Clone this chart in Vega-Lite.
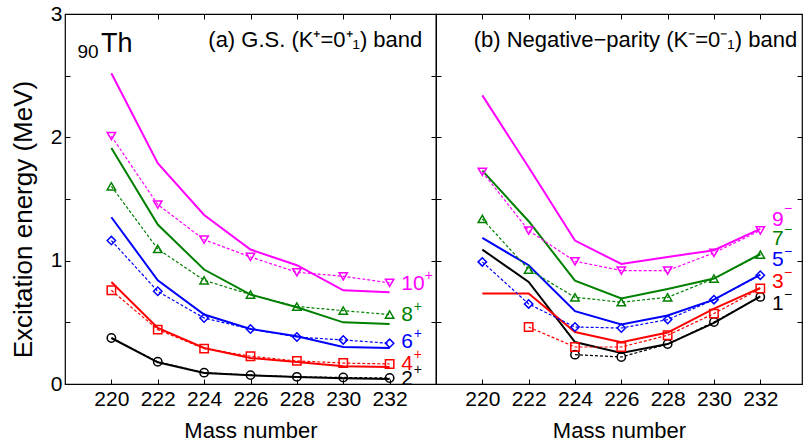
{
  "$schema": "https://vega.github.io/schema/vega-lite/v6.json",
  "padding": {"left": 9, "top": 2, "right": 0, "bottom": 0},
  "spacing": 0,
  "bounds": "flush",
  "config": {
    "view": {"stroke": "black", "strokeWidth": 1.2},
    "font": "Liberation Sans",
    "axis": {"tickColor": "black", "labelColor": "black", "titleColor": "black", "labelFont": "Liberation Sans", "titleFont": "Liberation Sans", "grid": false, "domain": false, "tickWidth": 1},
    "text": {"font": "Liberation Sans"}
  },
  "datasets": {
    "curves": [
      {"panel":"a","state":"2+","kind":"th","mass":220,"energy":0.373},
      {"panel":"a","state":"2+","kind":"th","mass":222,"energy":0.176},
      {"panel":"a","state":"2+","kind":"th","mass":224,"energy":0.089},
      {"panel":"a","state":"2+","kind":"th","mass":226,"energy":0.070},
      {"panel":"a","state":"2+","kind":"th","mass":228,"energy":0.057},
      {"panel":"a","state":"2+","kind":"th","mass":230,"energy":0.046},
      {"panel":"a","state":"2+","kind":"th","mass":232,"energy":0.041},
      {"panel":"a","state":"4+","kind":"th","mass":220,"energy":0.827},
      {"panel":"a","state":"4+","kind":"th","mass":222,"energy":0.454},
      {"panel":"a","state":"4+","kind":"th","mass":224,"energy":0.292},
      {"panel":"a","state":"4+","kind":"th","mass":226,"energy":0.211},
      {"panel":"a","state":"4+","kind":"th","mass":228,"energy":0.178},
      {"panel":"a","state":"4+","kind":"th","mass":230,"energy":0.144},
      {"panel":"a","state":"4+","kind":"th","mass":232,"energy":0.138},
      {"panel":"a","state":"6+","kind":"th","mass":220,"energy":1.352},
      {"panel":"a","state":"6+","kind":"th","mass":222,"energy":0.841},
      {"panel":"a","state":"6+","kind":"th","mass":224,"energy":0.563},
      {"panel":"a","state":"6+","kind":"th","mass":226,"energy":0.446},
      {"panel":"a","state":"6+","kind":"th","mass":228,"energy":0.387},
      {"panel":"a","state":"6+","kind":"th","mass":230,"energy":0.300},
      {"panel":"a","state":"6+","kind":"th","mass":232,"energy":0.292},
      {"panel":"a","state":"8+","kind":"th","mass":220,"energy":1.914},
      {"panel":"a","state":"8+","kind":"th","mass":222,"energy":1.293},
      {"panel":"a","state":"8+","kind":"th","mass":224,"energy":0.928},
      {"panel":"a","state":"8+","kind":"th","mass":226,"energy":0.725},
      {"panel":"a","state":"8+","kind":"th","mass":228,"energy":0.622},
      {"panel":"a","state":"8+","kind":"th","mass":230,"energy":0.500},
      {"panel":"a","state":"8+","kind":"th","mass":232,"energy":0.487},
      {"panel":"a","state":"10+","kind":"th","mass":220,"energy":2.520},
      {"panel":"a","state":"10+","kind":"th","mass":222,"energy":1.790},
      {"panel":"a","state":"10+","kind":"th","mass":224,"energy":1.370},
      {"panel":"a","state":"10+","kind":"th","mass":226,"energy":1.090},
      {"panel":"a","state":"10+","kind":"th","mass":228,"energy":0.963},
      {"panel":"a","state":"10+","kind":"th","mass":230,"energy":0.760},
      {"panel":"a","state":"10+","kind":"th","mass":232,"energy":0.744},
      {"panel":"a","state":"2+","kind":"ex","mass":220,"energy":0.373},
      {"panel":"a","state":"2+","kind":"ex","mass":222,"energy":0.180},
      {"panel":"a","state":"2+","kind":"ex","mass":224,"energy":0.092},
      {"panel":"a","state":"2+","kind":"ex","mass":226,"energy":0.072},
      {"panel":"a","state":"2+","kind":"ex","mass":228,"energy":0.058},
      {"panel":"a","state":"2+","kind":"ex","mass":230,"energy":0.053},
      {"panel":"a","state":"2+","kind":"ex","mass":232,"energy":0.049},
      {"panel":"a","state":"4+","kind":"ex","mass":220,"energy":0.760},
      {"panel":"a","state":"4+","kind":"ex","mass":222,"energy":0.441},
      {"panel":"a","state":"4+","kind":"ex","mass":224,"energy":0.287},
      {"panel":"a","state":"4+","kind":"ex","mass":226,"energy":0.225},
      {"panel":"a","state":"4+","kind":"ex","mass":228,"energy":0.187},
      {"panel":"a","state":"4+","kind":"ex","mass":230,"energy":0.170},
      {"panel":"a","state":"4+","kind":"ex","mass":232,"energy":0.162},
      {"panel":"a","state":"6+","kind":"ex","mass":220,"energy":1.163},
      {"panel":"a","state":"6+","kind":"ex","mass":222,"energy":0.752},
      {"panel":"a","state":"6+","kind":"ex","mass":224,"energy":0.535},
      {"panel":"a","state":"6+","kind":"ex","mass":226,"energy":0.446},
      {"panel":"a","state":"6+","kind":"ex","mass":228,"energy":0.381},
      {"panel":"a","state":"6+","kind":"ex","mass":230,"energy":0.357},
      {"panel":"a","state":"6+","kind":"ex","mass":232,"energy":0.330},
      {"panel":"a","state":"8+","kind":"ex","mass":220,"energy":1.603},
      {"panel":"a","state":"8+","kind":"ex","mass":222,"energy":1.095},
      {"panel":"a","state":"8+","kind":"ex","mass":224,"energy":0.841},
      {"panel":"a","state":"8+","kind":"ex","mass":226,"energy":0.725},
      {"panel":"a","state":"8+","kind":"ex","mass":228,"energy":0.628},
      {"panel":"a","state":"8+","kind":"ex","mass":230,"energy":0.595},
      {"panel":"a","state":"8+","kind":"ex","mass":232,"energy":0.563},
      {"panel":"a","state":"10+","kind":"ex","mass":220,"energy":2.010},
      {"panel":"a","state":"10+","kind":"ex","mass":222,"energy":1.455},
      {"panel":"a","state":"10+","kind":"ex","mass":224,"energy":1.170},
      {"panel":"a","state":"10+","kind":"ex","mass":226,"energy":1.030},
      {"panel":"a","state":"10+","kind":"ex","mass":228,"energy":0.906},
      {"panel":"a","state":"10+","kind":"ex","mass":230,"energy":0.873},
      {"panel":"a","state":"10+","kind":"ex","mass":232,"energy":0.820},
      {"panel":"b","state":"1-","kind":"th","mass":220,"energy":1.090},
      {"panel":"b","state":"1-","kind":"th","mass":222,"energy":0.827},
      {"panel":"b","state":"1-","kind":"th","mass":224,"energy":0.340},
      {"panel":"b","state":"1-","kind":"th","mass":226,"energy":0.251},
      {"panel":"b","state":"1-","kind":"th","mass":228,"energy":0.324},
      {"panel":"b","state":"1-","kind":"th","mass":230,"energy":0.495},
      {"panel":"b","state":"1-","kind":"th","mass":232,"energy":0.711},
      {"panel":"b","state":"3-","kind":"th","mass":220,"energy":0.733},
      {"panel":"b","state":"3-","kind":"th","mass":222,"energy":0.733},
      {"panel":"b","state":"3-","kind":"th","mass":224,"energy":0.422},
      {"panel":"b","state":"3-","kind":"th","mass":226,"energy":0.338},
      {"panel":"b","state":"3-","kind":"th","mass":228,"energy":0.417},
      {"panel":"b","state":"3-","kind":"th","mass":230,"energy":0.611},
      {"panel":"b","state":"3-","kind":"th","mass":232,"energy":0.779},
      {"panel":"b","state":"5-","kind":"th","mass":220,"energy":1.184},
      {"panel":"b","state":"5-","kind":"th","mass":222,"energy":0.963},
      {"panel":"b","state":"5-","kind":"th","mass":224,"energy":0.590},
      {"panel":"b","state":"5-","kind":"th","mass":226,"energy":0.482},
      {"panel":"b","state":"5-","kind":"th","mass":228,"energy":0.555},
      {"panel":"b","state":"5-","kind":"th","mass":230,"energy":0.684},
      {"panel":"b","state":"5-","kind":"th","mass":232,"energy":0.887},
      {"panel":"b","state":"7-","kind":"th","mass":220,"energy":1.730},
      {"panel":"b","state":"7-","kind":"th","mass":222,"energy":1.320},
      {"panel":"b","state":"7-","kind":"th","mass":224,"energy":0.838},
      {"panel":"b","state":"7-","kind":"th","mass":226,"energy":0.693},
      {"panel":"b","state":"7-","kind":"th","mass":228,"energy":0.771},
      {"panel":"b","state":"7-","kind":"th","mass":230,"energy":0.855},
      {"panel":"b","state":"7-","kind":"th","mass":232,"energy":1.054},
      {"panel":"b","state":"9-","kind":"th","mass":220,"energy":2.340},
      {"panel":"b","state":"9-","kind":"th","mass":222,"energy":1.757},
      {"panel":"b","state":"9-","kind":"th","mass":224,"energy":1.163},
      {"panel":"b","state":"9-","kind":"th","mass":226,"energy":0.973},
      {"panel":"b","state":"9-","kind":"th","mass":228,"energy":1.030},
      {"panel":"b","state":"9-","kind":"th","mass":230,"energy":1.085},
      {"panel":"b","state":"9-","kind":"th","mass":232,"energy":1.258},
      {"panel":"b","state":"1-","kind":"ex","mass":224,"energy":0.238},
      {"panel":"b","state":"1-","kind":"ex","mass":226,"energy":0.219},
      {"panel":"b","state":"1-","kind":"ex","mass":228,"energy":0.324},
      {"panel":"b","state":"1-","kind":"ex","mass":230,"energy":0.503},
      {"panel":"b","state":"1-","kind":"ex","mass":232,"energy":0.706},
      {"panel":"b","state":"3-","kind":"ex","mass":222,"energy":0.462},
      {"panel":"b","state":"3-","kind":"ex","mass":224,"energy":0.300},
      {"panel":"b","state":"3-","kind":"ex","mass":226,"energy":0.300},
      {"panel":"b","state":"3-","kind":"ex","mass":228,"energy":0.395},
      {"panel":"b","state":"3-","kind":"ex","mass":230,"energy":0.571},
      {"panel":"b","state":"3-","kind":"ex","mass":232,"energy":0.774},
      {"panel":"b","state":"5-","kind":"ex","mass":220,"energy":0.990},
      {"panel":"b","state":"5-","kind":"ex","mass":222,"energy":0.649},
      {"panel":"b","state":"5-","kind":"ex","mass":224,"energy":0.462},
      {"panel":"b","state":"5-","kind":"ex","mass":226,"energy":0.454},
      {"panel":"b","state":"5-","kind":"ex","mass":228,"energy":0.522},
      {"panel":"b","state":"5-","kind":"ex","mass":230,"energy":0.684},
      {"panel":"b","state":"5-","kind":"ex","mass":232,"energy":0.882},
      {"panel":"b","state":"7-","kind":"ex","mass":220,"energy":1.338},
      {"panel":"b","state":"7-","kind":"ex","mass":222,"energy":0.928},
      {"panel":"b","state":"7-","kind":"ex","mass":224,"energy":0.703},
      {"panel":"b","state":"7-","kind":"ex","mass":226,"energy":0.663},
      {"panel":"b","state":"7-","kind":"ex","mass":228,"energy":0.703},
      {"panel":"b","state":"7-","kind":"ex","mass":230,"energy":0.855},
      {"panel":"b","state":"7-","kind":"ex","mass":232,"energy":1.049},
      {"panel":"b","state":"9-","kind":"ex","mass":220,"energy":1.720},
      {"panel":"b","state":"9-","kind":"ex","mass":222,"energy":1.244},
      {"panel":"b","state":"9-","kind":"ex","mass":224,"energy":0.995},
      {"panel":"b","state":"9-","kind":"ex","mass":226,"energy":0.920},
      {"panel":"b","state":"9-","kind":"ex","mass":228,"energy":0.920},
      {"panel":"b","state":"9-","kind":"ex","mass":230,"energy":1.063},
      {"panel":"b","state":"9-","kind":"ex","mass":232,"energy":1.245}
    ],
    "labels": [
      {"panel":"a","state":"10+","role":"main","text":"10","mass":232.5,"energy":0.766},
      {"panel":"a","state":"8+","role":"main","text":"8","mass":232.5,"energy":0.514},
      {"panel":"a","state":"6+","role":"main","text":"6","mass":232.5,"energy":0.292},
      {"panel":"a","state":"4+","role":"main","text":"4","mass":232.5,"energy":0.117},
      {"panel":"a","state":"2+","role":"main","text":"2","mass":232.5,"energy":-0.005},
      {"panel":"a","state":"10+","role":"sup","text":"+","mass":233.52,"energy":0.844},
      {"panel":"a","state":"8+","role":"sup","text":"+","mass":233.04,"energy":0.595},
      {"panel":"a","state":"6+","role":"sup","text":"+","mass":233.04,"energy":0.374},
      {"panel":"a","state":"4+","role":"sup","text":"+","mass":233.04,"energy":0.204},
      {"panel":"a","state":"2+","role":"sup","text":"+","mass":233.04,"energy":0.084},
      {"panel":"b","state":"9-","role":"main","text":"9","mass":232.51,"energy":1.279},
      {"panel":"b","state":"7-","role":"main","text":"7","mass":232.51,"energy":1.125},
      {"panel":"b","state":"5-","role":"main","text":"5","mass":232.51,"energy":0.955},
      {"panel":"b","state":"3-","role":"main","text":"3","mass":232.51,"energy":0.779},
      {"panel":"b","state":"1-","role":"main","text":"1","mass":232.51,"energy":0.603},
      {"panel":"b","state":"9-","role":"sup","text":"−","mass":233.02,"energy":1.386},
      {"panel":"b","state":"7-","role":"sup","text":"−","mass":233.02,"energy":1.213},
      {"panel":"b","state":"5-","role":"sup","text":"−","mass":233.02,"energy":1.04},
      {"panel":"b","state":"3-","role":"sup","text":"−","mass":233.02,"energy":0.864},
      {"panel":"b","state":"1-","role":"sup","text":"−","mass":233.02,"energy":0.693}
    ],
    "notes": [
      {"panel":"a","role":"title","text":"(a) G.S. (K⁺=0⁺₁) band","mass":233.41,"energy":2.731},
      {"panel":"b","role":"title","text":"(b) Negative−parity (K⁻=0⁻₁) band","mass":233.59,"energy":2.731},
      {"panel":"a","role":"elem","text":"Th","mass":219.55,"energy":2.693},
      {"panel":"a","role":"z","text":"90","mass":219.45,"energy":2.642}
    ]
  },
  "hconcat": [
    {
      "width": 371,
      "height": 370,
      "layer": [
        {
          "data": {"name": "curves"},
          "transform": [{"filter": "datum.panel === 'a' && datum.kind === 'th'"}],
          "mark": {"type": "line", "strokeWidth": 2},
          "encoding": {
            "x": {"field": "mass", "type": "quantitative", "scale": {"domain": [218, 234], "nice": false, "zero": false},
              "axis": {"orient": "bottom", "values": [220,222,224,226,228,230,232], "tickSize": -5, "labelPadding": 9, "labelFontSize": 21, "labelFlush": false, "labelOverlap": false, "title": "Mass number", "titleFontSize": 22, "titleFontWeight": "normal", "titleBaseline": "alphabetic", "titleY": 53.3}},
            "y": {"field": "energy", "type": "quantitative", "scale": {"domain": [0, 3], "nice": false, "zero": false},
              "axis": {"orient": "left", "values": [0,0.5,1,1.5,2,2.5,3], "tickSize": -5, "labelPadding": 8, "labelFontSize": 21, "labelFlush": false, "labelOverlap": false, "labelExpr": "datum.value % 1 === 0 ? '' + datum.value : ''", "title": "Excitation energy (MeV)", "titleFontSize": 26, "titleFontWeight": "normal", "titleAngle": 270, "titleX": -34, "titleY": 205, "titleBaseline": "alphabetic", "titleAlign": "center"}},
            "color": {"field": "state", "type": "nominal", "legend": null,
              "scale": {"domain": ["2+","4+","6+","8+","10+","1-","3-","5-","7-","9-"], "range": ["#000000","#ff0000","#0000ff","#008000","#ff00ff","#000000","#ff0000","#0000ff","#008000","#ff00ff"]}}
          }
        },
        {
          "data": {"name": "curves"},
          "transform": [{"filter": "datum.panel === 'a' && datum.kind === 'ex'"}],
          "mark": {"type": "line", "strokeWidth": 1.2, "strokeDash": [3, 2]},
          "encoding": {
            "x": {"field": "mass", "type": "quantitative", "scale": {"domain": [218, 234], "nice": false, "zero": false},
              "axis": {"orient": "top", "values": [220,222,224,226,228,230,232], "tickSize": -5, "labels": false, "title": null}},
            "y": {"field": "energy", "type": "quantitative", "scale": {"domain": [0, 3], "nice": false, "zero": false},
              "axis": {"orient": "right", "values": [0,0.5,1,1.5,2,2.5,3], "tickSize": -5, "labels": false, "title": null}},
            "color": {"field": "state", "type": "nominal", "legend": null}
          }
        },
        {
          "data": {"name": "curves"},
          "transform": [{"filter": "datum.panel === 'a' && datum.kind === 'ex'"}],
          "mark": {"type": "point", "filled": false, "strokeWidth": 1.5, "size": 70, "opacity": 1},
          "encoding": {
            "x": {"field": "mass", "type": "quantitative", "scale": {"domain": [218, 234], "nice": false, "zero": false}, "axis": null},
            "y": {"field": "energy", "type": "quantitative", "scale": {"domain": [0, 3], "nice": false, "zero": false}, "axis": null},
            "color": {"field": "state", "type": "nominal", "legend": null},
            "shape": {"field": "state", "type": "nominal", "legend": null,
              "scale": {"domain": ["2+","4+","6+","8+","10+","1-","3-","5-","7-","9-"], "range": ["circle","square","diamond","triangle-up","triangle-down","circle","square","diamond","triangle-up","triangle-down"]}}
          }
        },
        {
          "data": {"name": "labels"},
          "transform": [{"filter": "datum.panel === 'a' && datum.role === 'main'"}],
          "mark": {"type": "text", "fontSize": 21, "align": "left", "baseline": "alphabetic"},
          "encoding": {
            "x": {"field": "mass", "type": "quantitative", "scale": {"domain": [218, 234], "nice": false, "zero": false}, "axis": null},
            "y": {"field": "energy", "type": "quantitative", "scale": {"domain": [0, 3], "nice": false, "zero": false}, "axis": null},
            "text": {"field": "text"},
            "color": {"field": "state", "type": "nominal", "legend": null}
          }
        },
        {
          "data": {"name": "labels"},
          "transform": [{"filter": "datum.panel === 'a' && datum.role === 'sup'"}],
          "mark": {"type": "text", "fontSize": 14, "align": "left", "baseline": "alphabetic"},
          "encoding": {
            "x": {"field": "mass", "type": "quantitative", "scale": {"domain": [218, 234], "nice": false, "zero": false}, "axis": null},
            "y": {"field": "energy", "type": "quantitative", "scale": {"domain": [0, 3], "nice": false, "zero": false}, "axis": null},
            "text": {"field": "text"},
            "color": {"field": "state", "type": "nominal", "legend": null}
          }
        },
        {
          "data": {"name": "notes"},
          "transform": [{"filter": "datum.panel === 'a' && datum.role === 'title'"}],
          "mark": {"type": "text", "fontSize": 22, "align": "right", "baseline": "alphabetic", "color": "black"},
          "encoding": {
            "x": {"field": "mass", "type": "quantitative", "scale": {"domain": [218, 234], "nice": false, "zero": false}, "axis": null},
            "y": {"field": "energy", "type": "quantitative", "scale": {"domain": [0, 3], "nice": false, "zero": false}, "axis": null},
            "text": {"field": "text"}
          }
        },
        {
          "data": {"name": "notes"},
          "transform": [{"filter": "datum.panel === 'a' && datum.role === 'elem'"}],
          "mark": {"type": "text", "fontSize": 27, "align": "left", "baseline": "alphabetic", "color": "black"},
          "encoding": {
            "x": {"field": "mass", "type": "quantitative", "scale": {"domain": [218, 234], "nice": false, "zero": false}, "axis": null},
            "y": {"field": "energy", "type": "quantitative", "scale": {"domain": [0, 3], "nice": false, "zero": false}, "axis": null},
            "text": {"field": "text"}
          }
        },
        {
          "data": {"name": "notes"},
          "transform": [{"filter": "datum.panel === 'a' && datum.role === 'z'"}],
          "mark": {"type": "text", "fontSize": 19, "align": "right", "baseline": "alphabetic", "color": "black"},
          "encoding": {
            "x": {"field": "mass", "type": "quantitative", "scale": {"domain": [218, 234], "nice": false, "zero": false}, "axis": null},
            "y": {"field": "energy", "type": "quantitative", "scale": {"domain": [0, 3], "nice": false, "zero": false}, "axis": null},
            "text": {"field": "text"}
          }
        }
      ]
    },
    {
      "width": 366,
      "height": 370,
      "layer": [
        {
          "data": {"name": "curves"},
          "transform": [{"filter": "datum.panel === 'b' && datum.kind === 'th'"}],
          "mark": {"type": "line", "strokeWidth": 2},
          "encoding": {
            "x": {"field": "mass", "type": "quantitative", "scale": {"domain": [218, 233.8], "nice": false, "zero": false},
              "axis": {"orient": "bottom", "values": [220,222,224,226,228,230,232], "tickSize": -5, "labelPadding": 9, "labelFontSize": 21, "labelFlush": false, "labelOverlap": false, "title": "Mass number", "titleFontSize": 22, "titleFontWeight": "normal", "titleBaseline": "alphabetic", "titleY": 53.3}},
            "y": {"field": "energy", "type": "quantitative", "scale": {"domain": [0, 3], "nice": false, "zero": false},
              "axis": {"orient": "left", "values": [0,0.5,1,1.5,2,2.5,3], "tickSize": -5, "labels": false, "title": null}},
            "color": {"field": "state", "type": "nominal", "legend": null,
              "scale": {"domain": ["2+","4+","6+","8+","10+","1-","3-","5-","7-","9-"], "range": ["#000000","#ff0000","#0000ff","#008000","#ff00ff","#000000","#ff0000","#0000ff","#008000","#ff00ff"]}}
          }
        },
        {
          "data": {"name": "curves"},
          "transform": [{"filter": "datum.panel === 'b' && datum.kind === 'ex'"}],
          "mark": {"type": "line", "strokeWidth": 1.2, "strokeDash": [3, 2]},
          "encoding": {
            "x": {"field": "mass", "type": "quantitative", "scale": {"domain": [218, 233.8], "nice": false, "zero": false},
              "axis": {"orient": "top", "values": [220,222,224,226,228,230,232], "tickSize": -5, "labels": false, "title": null}},
            "y": {"field": "energy", "type": "quantitative", "scale": {"domain": [0, 3], "nice": false, "zero": false},
              "axis": {"orient": "right", "values": [0,0.5,1,1.5,2,2.5,3], "tickSize": -5, "labels": false, "title": null}},
            "color": {"field": "state", "type": "nominal", "legend": null}
          }
        },
        {
          "data": {"name": "curves"},
          "transform": [{"filter": "datum.panel === 'b' && datum.kind === 'ex'"}],
          "mark": {"type": "point", "filled": false, "strokeWidth": 1.5, "size": 70, "opacity": 1},
          "encoding": {
            "x": {"field": "mass", "type": "quantitative", "scale": {"domain": [218, 233.8], "nice": false, "zero": false}, "axis": null},
            "y": {"field": "energy", "type": "quantitative", "scale": {"domain": [0, 3], "nice": false, "zero": false}, "axis": null},
            "color": {"field": "state", "type": "nominal", "legend": null},
            "shape": {"field": "state", "type": "nominal", "legend": null,
              "scale": {"domain": ["2+","4+","6+","8+","10+","1-","3-","5-","7-","9-"], "range": ["circle","square","diamond","triangle-up","triangle-down","circle","square","diamond","triangle-up","triangle-down"]}}
          }
        },
        {
          "data": {"name": "labels"},
          "transform": [{"filter": "datum.panel === 'b' && datum.role === 'main'"}],
          "mark": {"type": "text", "fontSize": 21, "align": "left", "baseline": "alphabetic"},
          "encoding": {
            "x": {"field": "mass", "type": "quantitative", "scale": {"domain": [218, 233.8], "nice": false, "zero": false}, "axis": null},
            "y": {"field": "energy", "type": "quantitative", "scale": {"domain": [0, 3], "nice": false, "zero": false}, "axis": null},
            "text": {"field": "text"},
            "color": {"field": "state", "type": "nominal", "legend": null}
          }
        },
        {
          "data": {"name": "labels"},
          "transform": [{"filter": "datum.panel === 'b' && datum.role === 'sup'"}],
          "mark": {"type": "text", "fontSize": 14, "align": "left", "baseline": "alphabetic"},
          "encoding": {
            "x": {"field": "mass", "type": "quantitative", "scale": {"domain": [218, 233.8], "nice": false, "zero": false}, "axis": null},
            "y": {"field": "energy", "type": "quantitative", "scale": {"domain": [0, 3], "nice": false, "zero": false}, "axis": null},
            "text": {"field": "text"},
            "color": {"field": "state", "type": "nominal", "legend": null}
          }
        },
        {
          "data": {"name": "notes"},
          "transform": [{"filter": "datum.panel === 'b' && datum.role === 'title'"}],
          "mark": {"type": "text", "fontSize": 22, "align": "right", "baseline": "alphabetic", "color": "black"},
          "encoding": {
            "x": {"field": "mass", "type": "quantitative", "scale": {"domain": [218, 233.8], "nice": false, "zero": false}, "axis": null},
            "y": {"field": "energy", "type": "quantitative", "scale": {"domain": [0, 3], "nice": false, "zero": false}, "axis": null},
            "text": {"field": "text"}
          }
        }
      ]
    }
  ]
}
